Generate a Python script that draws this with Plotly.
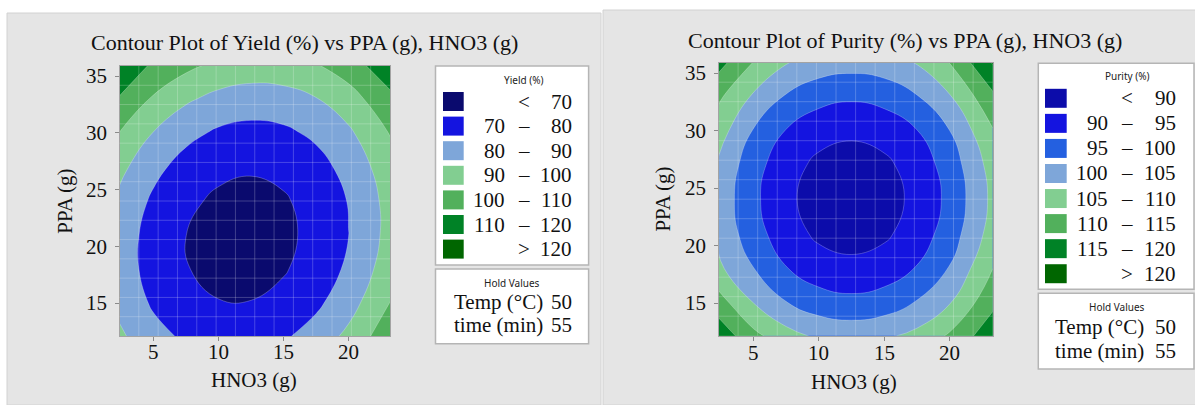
import plotly.graph_objects as go

W, H = 1195, 405

# ---------------- data ----------------
hno3 = [2.3, 5, 7.5, 10, 12.5, 15, 17.5, 20, 23.3]          # x grid, g
ppa = [12.1, 15, 18, 21, 24, 27, 30, 33, 36]                # y grid, g

yield_z = [
    [91.9, 83.3, 78.2, 75.7, 75.9, 78.7, 84.2, 92.4, 107.2],
    [87.5, 78.6, 73.2, 70.4, 70.3, 72.9, 78.1, 86.0, 100.5],
    [85.2, 76.1, 70.4, 67.3, 67.0, 69.2, 74.2, 81.7, 95.8],
    [85.4, 76.0, 70.0, 66.7, 66.0, 68.0, 72.6, 79.9, 93.6],
    [88.0, 78.2, 71.9, 68.3, 67.3, 69.0, 73.4, 80.4, 93.8],
    [92.8, 82.7, 76.2, 72.3, 71.0, 72.4, 76.5, 83.2, 96.2],
    [100.0, 89.6, 82.7, 78.5, 77.0, 78.1, 81.9, 88.3, 100.9],
    [109.4, 98.7, 91.5, 87.1, 85.2, 86.1, 89.6, 95.7, 107.9],
    [118.5, 108.5, 102.7, 97.9, 95.8, 96.3, 99.5, 105.4, 117.2],
]

purity_z = [
    [118.5, 111.5, 107.0, 104.2, 103.4, 104.3, 106.5, 110.8, 118.5],
    [112.3, 105.0, 100.2, 97.4, 96.4, 97.4, 100.4, 104.8, 113.8],
    [106.0, 100.1, 95.2, 92.2, 91.3, 92.3, 95.3, 100.3, 110.0],
    [103.9, 97.1, 92.1, 89.1, 88.1, 89.2, 92.3, 97.4, 107.2],
    [103.3, 96.1, 91.0, 88.0, 87.0, 88.1, 91.2, 96.3, 106.2],
    [104.3, 96.9, 91.9, 88.9, 87.9, 89.0, 92.1, 97.2, 107.1],
    [107.3, 99.7, 94.8, 91.8, 90.9, 91.9, 94.9, 100.0, 109.7],
    [111.0, 104.4, 99.6, 96.8, 95.8, 96.8, 99.8, 104.7, 114.1],
    [117.0, 110.0, 105.5, 103.0, 102.2, 103.0, 105.5, 110.2, 120.6],
]

yield_levels = [70, 80, 90, 100, 110, 120]
purity_levels = [90, 95, 100, 105, 110, 115, 120]

yield_colors = ["#0a0a6e", "#1414e0", "#7ea6d9", "#82ce91", "#52b05c", "#008226", "#006600"]
purity_colors = ["#0c0caa", "#1414e0", "#2460e0", "#7ea6d9", "#82ce91", "#52b05c", "#008226", "#006600"]

x_ticks = [5, 10, 15, 20]
y_ticks = [15, 20, 25, 30, 35]

hold_names = ["Temp (°C)", "time (min)"]
hold_vals = [50, 55]

titles = ["Contour Plot of Yield (%) vs PPA (g), HNO3 (g)",
          "Contour Plot of Purity (%) vs PPA (g), HNO3 (g)"]
legend_titles = ["Yield (%)", "Purity (%)"]
x_title = "HNO3 (g)"
y_title = "PPA (g)"

# ---------------- layout helpers ----------------
SERIF = "Liberation Serif, Times New Roman, serif"
SANS = "Noto Sans, Open Sans, sans-serif"
TXT = 21
GRID_CELLS = 14


def X(px):
    return px / W


def Y(py):
    return 1 - py / H


panels = [
    dict(bg=(7, 13, 601, 405), plot=(119.5, 66, 390, 336), xr=[2.35, 23.2], yr=[12.13, 35.88],
         title=(304.5, 42.5), xt=(254, 380), yt=(65, 201.7), xtl=352, ytl=109,
         box=(435.5, 66, 588.6, 265), ltitle=(524, 79.7), sw=(443, 463.7), row0=101.5, dy=24.6,
         cl=507.3, cm=523.8, cr=574,
         hbox=(435.5, 269, 588.6, 343.7), htitle=(512, 282.7), hrows=(301.7, 325), hl=451.7, hv=574),
    dict(bg=(603, 10, 1196, 405), plot=(718.5, 62.7, 992.7, 335.7), xr=[2.32, 23.29], yr=[12.16, 35.9],
         title=(905, 40), xt=(854.3, 381.7), yt=(662.6, 199), xtl=353.3, ytl=708,
         box=(1038.3, 63.3, 1194, 289.3), ltitle=(1127.3, 76), sw=(1045, 1066.7), row0=98.3, dy=25.06,
         cl=1110, cm=1127.3, cr=1178.3,
         hbox=(1038.3, 293.3, 1194, 369), htitle=(1116.7, 306.7), hrows=(326.7, 351), hl=1053.3, hv=1178.3),
]

datasets = [(yield_z, yield_levels, yield_colors), (purity_z, purity_levels, purity_colors)]

fig = go.Figure()
shapes = []
annotations = []
layout_axes = {}
serif_font = dict(family=SERIF, size=TXT, color="#111")

for i, (p, (z, levels, colors)) in enumerate(zip(panels, datasets)):
    sfx = "" if i == 0 else str(i + 1)
    n = len(colors) - 1
    cscale = [[k / n, c] for k, c in enumerate(colors)]
    fig.add_trace(go.Contour(
        x=hno3, y=ppa, z=z,
        autocontour=False,
        contours=dict(start=levels[0], end=levels[-1], size=levels[1] - levels[0],
                      coloring="fill", showlines=True),
        line=dict(width=0.7, color="rgba(255,255,255,0.35)", smoothing=1.3),
        colorscale=cscale, showscale=False, hoverinfo="skip",
        xaxis="x" + sfx, yaxis="y" + sfx,
    ))

    x0, y0, x1, y1 = p["plot"]
    axis_common = dict(showgrid=False, zeroline=False, showline=True, mirror=True,
                       linecolor="#a3a3a3", linewidth=1, ticks="outside", ticklen=4,
                       tickcolor="#8a8a8a", showticklabels=False)
    layout_axes["xaxis" + sfx] = dict(domain=[X(x0), X(x1)], range=p["xr"], tickvals=x_ticks,
                                      anchor="y" + sfx, **axis_common)
    layout_axes["yaxis" + sfx] = dict(domain=[Y(y1), Y(y0)], range=p["yr"], tickvals=y_ticks,
                                      anchor="x" + sfx, **axis_common)

    # tick labels
    for t in x_ticks:
        annotations.append(dict(text=str(t), x=t, xref="x" + sfx, y=Y(p["xtl"]), yref="paper",
                                showarrow=False, xanchor="center", yanchor="middle", font=serif_font))
    for t in y_ticks:
        annotations.append(dict(text=str(t), x=X(p["ytl"]), xref="paper", y=t, yref="y" + sfx,
                                showarrow=False, xanchor="right", yanchor="middle", font=serif_font))

    # faint mesh lines over the contour (Minitab style)
    for k in range(1, GRID_CELLS):
        f = k / GRID_CELLS
        shapes.append(dict(type="line", xref="x%s domain" % sfx, yref="y%s domain" % sfx,
                           x0=f, x1=f, y0=0, y1=1, line=dict(color="rgba(255,255,255,0.22)", width=1)))
        shapes.append(dict(type="line", xref="x%s domain" % sfx, yref="y%s domain" % sfx,
                           x0=0, x1=1, y0=f, y1=f, line=dict(color="rgba(255,255,255,0.22)", width=1)))

    # panel background
    bx0, by0, bx1, by1 = p["bg"]
    shapes.append(dict(type="rect", xref="paper", yref="paper", x0=X(bx0), x1=X(bx1),
                       y0=Y(by1), y1=Y(by0), fillcolor="#e5e5e5",
                       line=dict(color="#d2d2d2", width=1), layer="below"))

    # titles
    annotations.append(dict(text=titles[i], x=X(p["title"][0]), y=Y(p["title"][1]),
                            xref="paper", yref="paper", showarrow=False, xanchor="center",
                            yanchor="middle", font=dict(family=SERIF, size=22, color="#111")))
    annotations.append(dict(text=x_title, x=X(p["xt"][0]), y=Y(p["xt"][1]), xref="paper",
                            yref="paper", showarrow=False, xanchor="center", yanchor="middle",
                            font=serif_font))
    annotations.append(dict(text=y_title, x=X(p["yt"][0]), y=Y(p["yt"][1]), xref="paper",
                            yref="paper", showarrow=False, xanchor="center", yanchor="middle",
                            textangle=-90, font=serif_font))

    # legend box
    lx0, ly0, lx1, ly1 = p["box"]
    shapes.append(dict(type="rect", xref="paper", yref="paper", x0=X(lx0), x1=X(lx1),
                       y0=Y(ly1), y1=Y(ly0), fillcolor="white",
                       line=dict(color="#b5b5b5", width=1.5)))
    annotations.append(dict(text=legend_titles[i], x=X(p["ltitle"][0]), y=Y(p["ltitle"][1]),
                            xref="paper", yref="paper", showarrow=False, xanchor="center",
                            yanchor="middle", font=dict(family=SANS, size=10, color="#222")))
    labels = [("<", levels[0])] + [(levels[k], levels[k + 1]) for k in range(len(levels) - 1)] \
        + [(">", levels[-1])]
    for k, (lab, c) in enumerate(zip(labels, colors)):
        cy = p["row0"] + k * p["dy"]
        shapes.append(dict(type="rect", xref="paper", yref="paper", x0=X(p["sw"][0]),
                           x1=X(p["sw"][1]), y0=Y(cy + 9.5), y1=Y(cy - 9.5),
                           fillcolor=c, line=dict(width=0)))
        a, b = lab
        if isinstance(a, str):
            annotations.append(dict(text=a, x=X(p["cm"]), y=Y(cy), xref="paper", yref="paper",
                                    showarrow=False, xanchor="center", yanchor="middle",
                                    font=serif_font))
        else:
            annotations.append(dict(text=str(a), x=X(p["cl"]), y=Y(cy), xref="paper", yref="paper",
                                    showarrow=False, xanchor="right", yanchor="middle",
                                    font=serif_font))
            annotations.append(dict(text="–", x=X(p["cm"]), y=Y(cy), xref="paper", yref="paper",
                                    showarrow=False, xanchor="center", yanchor="middle",
                                    font=serif_font))
        annotations.append(dict(text=str(b), x=X(p["cr"]), y=Y(cy), xref="paper", yref="paper",
                                showarrow=False, xanchor="right", yanchor="middle", font=serif_font))

    # hold values box
    hx0, hy0, hx1, hy1 = p["hbox"]
    shapes.append(dict(type="rect", xref="paper", yref="paper", x0=X(hx0), x1=X(hx1),
                       y0=Y(hy1), y1=Y(hy0), fillcolor="white",
                       line=dict(color="#b5b5b5", width=1.5)))
    annotations.append(dict(text="Hold Values", x=X(p["htitle"][0]), y=Y(p["htitle"][1]),
                            xref="paper", yref="paper", showarrow=False, xanchor="center",
                            yanchor="middle", font=dict(family=SANS, size=10, color="#222")))
    for name, val, ry in zip(hold_names, hold_vals, p["hrows"]):
        annotations.append(dict(text=name, x=X(p["hl"]), y=Y(ry), xref="paper", yref="paper",
                                showarrow=False, xanchor="left", yanchor="middle", font=serif_font))
        annotations.append(dict(text=str(val), x=X(p["hv"]), y=Y(ry), xref="paper", yref="paper",
                                showarrow=False, xanchor="right", yanchor="middle", font=serif_font))

fig.update_layout(
    width=W, height=H, margin=dict(l=0, r=0, t=0, b=0),
    paper_bgcolor="white", plot_bgcolor="white",
    showlegend=False, shapes=shapes, annotations=annotations,
    **layout_axes,
)

fig.write_html("out.html")
